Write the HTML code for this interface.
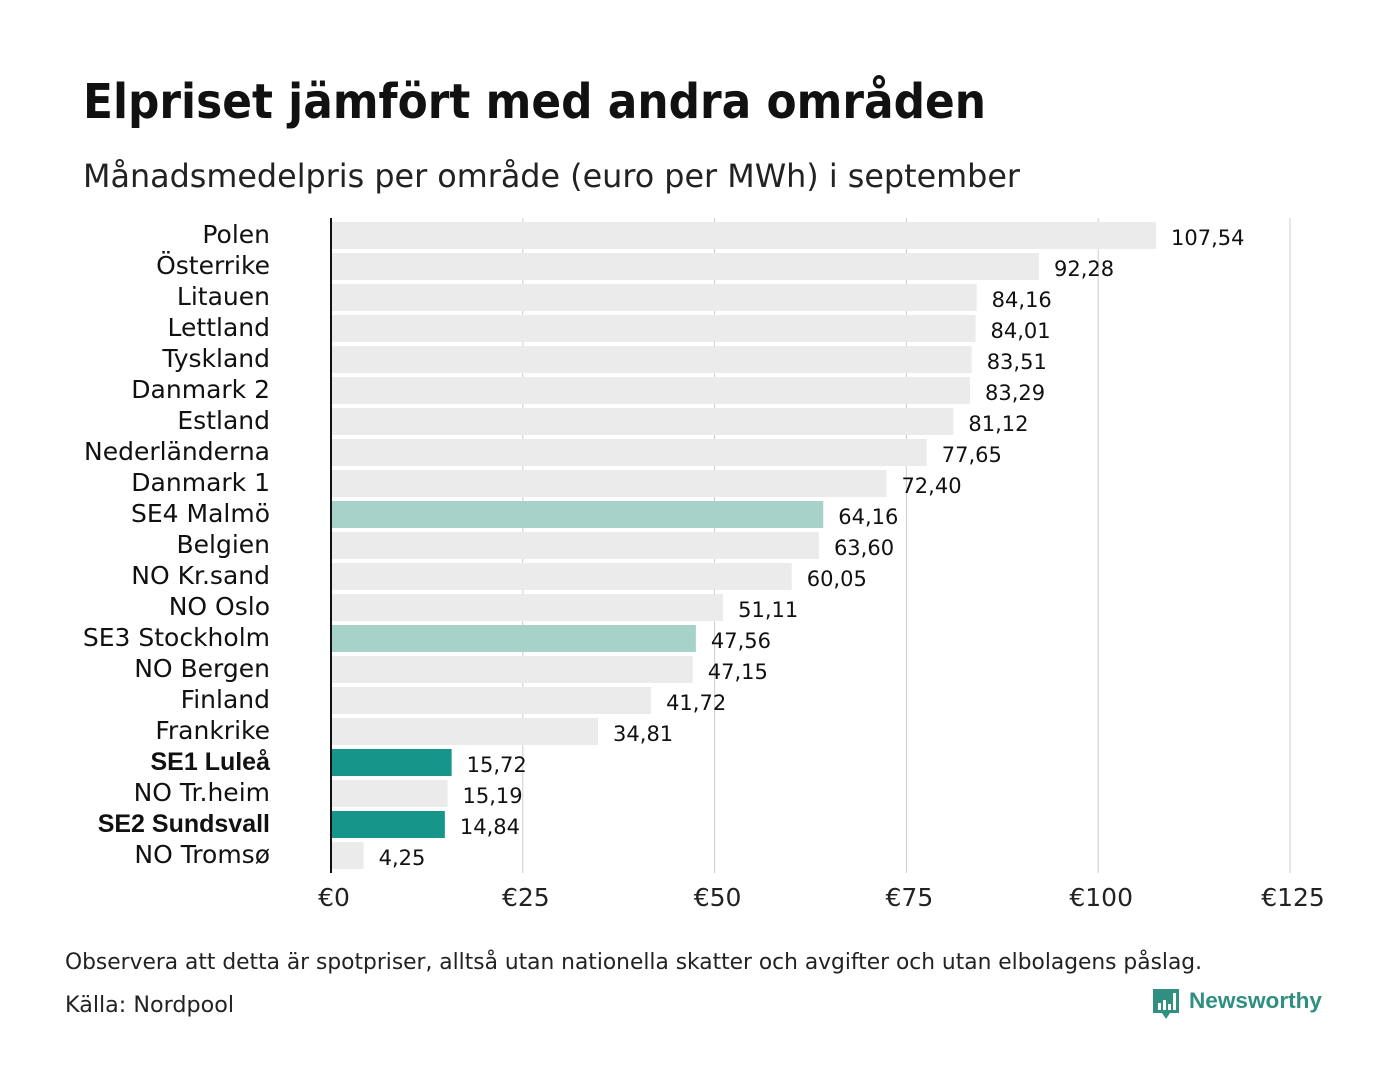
<!DOCTYPE html>
<html><head><meta charset="utf-8"><style>
body{margin:0;width:1400px;height:1080px;background:#fff;font-family:"Liberation Sans","DejaVu Sans",sans-serif;overflow:hidden}
</style></head><body>
<svg id="c" width="1400" height="1080" xmlns="http://www.w3.org/2000/svg">
<text x="83" y="118" font-size="48" font-weight="bold" fill="#111" font-family="DejaVu Sans, sans-serif" textLength="903" lengthAdjust="spacingAndGlyphs">Elpriset jämfört med andra områden</text>
<text x="83" y="187" font-size="32" fill="#222" font-family="DejaVu Sans, sans-serif" textLength="937" lengthAdjust="spacingAndGlyphs">Månadsmedelpris per område (euro per MWh) i september</text>
<g id="grid"></g><g id="bars"></g>
<line x1="331" y1="218" x2="331" y2="873" stroke="#111" stroke-width="2"/>
<text x="65" y="969" font-size="22" fill="#222" font-family="DejaVu Sans, sans-serif" textLength="1137" lengthAdjust="spacingAndGlyphs">Observera att detta är spotpriser, alltså utan nationella skatter och avgifter och utan elbolagens påslag.</text>
<text x="65" y="1012" font-size="22" fill="#222" font-family="DejaVu Sans, sans-serif" textLength="169" lengthAdjust="spacingAndGlyphs">Källa: Nordpool</text>
<g>
<path d="M1153 989h26v24h-9l-4 6-4-6h-9z" fill="#2f8f80"/>
<rect x="1158" y="1003" width="3" height="7" fill="#fff"/><rect x="1163" y="1000" width="3" height="10" fill="#fff"/><rect x="1168" y="1004" width="3" height="6" fill="#fff"/><rect x="1173" y="993" width="3" height="17" fill="#fff"/>
<text x="1189" y="1008" font-size="22" font-weight="bold" fill="#2f8f80" textLength="133" lengthAdjust="spacingAndGlyphs">Newsworthy</text>
</g>
</svg>
<script>
const categories=["Polen","Österrike","Litauen","Lettland","Tyskland","Danmark  2","Estland","Nederländerna","Danmark  1","SE4  Malmö","Belgien","NO Kr.sand","NO Oslo","SE3  Stockholm","NO Bergen","Finland","Frankrike","SE1 Luleå","NO Tr.heim","SE2 Sundsvall","NO Tromsø"];
const values=[107.54,92.28,84.16,84.01,83.51,83.29,81.12,77.65,72.40,64.16,63.60,60.05,51.11,47.56,47.15,41.72,34.81,15.72,15.19,14.84,4.25];
const highlight=["","","","","","","","","","light","","","","light","","","","dark","","dark",""];
const ticks=[0,25,50,75,100,125];
const ns="http://www.w3.org/2000/svg";
const x=v=>331+v*7.672, y=i=>222+i*31;
const grid=document.getElementById('grid'), bars=document.getElementById('bars');
function mk(tag,a,p){const e=document.createElementNS(ns,tag);for(const k in a)e.setAttribute(k,a[k]);p.appendChild(e);return e;}
ticks.forEach(t=>{
 const l=mk('line',{x1:x(t),x2:x(t),y1:218,y2:873,stroke:'#ccc','stroke-width':1},grid);
 
 
 const tx=mk('text',{x:x(t)+3,y:906,'font-size':25,'text-anchor':'middle',fill:'#222','font-family':'DejaVu Sans, sans-serif'},grid);
 tx.textContent='€'+t;
 
 
});
values.forEach((v,i)=>{
 const col=highlight[i]=='dark'?'#16958a':highlight[i]=='light'?'#a7d2ca':'#ebebeb';
 const r=mk('rect',{x:332,y:y(i),width:x(v)-332,height:27,fill:col},bars);
 
 
 const lb=mk('text',{x:270,y:y(i)+21,'font-size':25,'text-anchor':'end',fill:'#111','font-family':highlight[i]=='dark'?'Liberation Sans, sans-serif':'DejaVu Sans, sans-serif','font-weight':highlight[i]=='dark'?'bold':'normal'},bars);
 lb.textContent=categories[i];
 
 
 const vl=mk('text',{x:x(v)+15,y:y(i)+23,'font-size':21,fill:'#111','font-family':'DejaVu Sans, sans-serif'},bars);
 vl.textContent=v.toFixed(2).replace('.',',');
 
 
});
</script>
</body></html>
